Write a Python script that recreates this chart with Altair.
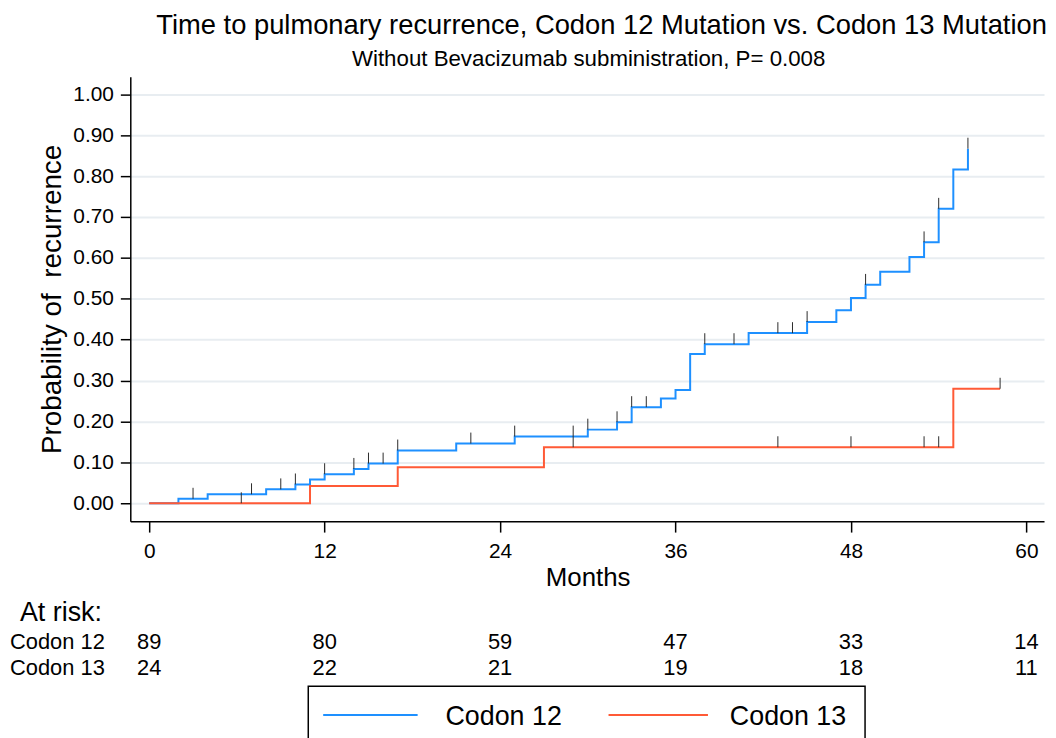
import altair as alt
import pandas as pd

# ---- data ----
c12_time = [0, 2, 4, 8, 10, 11, 12, 14, 15, 17, 21, 25, 30, 32, 33, 35, 36, 37, 38, 41,
            45, 47, 48, 49, 50, 52, 53, 54, 55, 56]
c12_prob = [0.0, 0.011, 0.022, 0.034, 0.046, 0.058, 0.071, 0.084, 0.097, 0.129,
            0.146, 0.163, 0.180, 0.198, 0.235, 0.256, 0.277, 0.365, 0.389, 0.416,
            0.443, 0.472, 0.502, 0.534, 0.566, 0.602, 0.638, 0.720, 0.816, 0.867]
c13_time = [0, 11, 17, 27, 55, 58.2]
c13_prob = [0.0, 0.042, 0.088, 0.137, 0.280, 0.280]

c12_censor = [3, 7, 9, 10, 12, 14, 15, 16, 17, 22, 25, 29, 30, 32, 33, 34, 38, 40,
              43, 44, 45, 49, 53, 54, 56]
c13_censor = [6.3, 29, 43, 48, 53, 54, 58.2]

risk_times = [0, 12, 24, 36, 48, 60]
risk_c12 = [89, 80, 59, 47, 33, 14]
risk_c13 = [24, 22, 21, 19, 18, 11]

groups = ["Codon 12", "Codon 13"]
BLUE = "#1e90ff"
RED = "#ff5a36"
FONT = "Liberation Sans"


def step_value(times, probs, t):
    v = probs[0]
    for ti, pi in zip(times, probs):
        if ti <= t + 1e-9:
            v = pi
    return v


curves = pd.DataFrame({
    "t": c12_time + c13_time,
    "p": c12_prob + c13_prob,
    "group": [groups[0]] * len(c12_time) + [groups[1]] * len(c13_time),
})
censors = pd.DataFrame({
    "t": c12_censor + c13_censor,
    "p": [step_value(c12_time, c12_prob, t) for t in c12_censor]
    + [step_value(c13_time, c13_prob, t) for t in c13_censor],
})
risk12 = pd.DataFrame({"t": risk_times, "n": risk_c12})
risk13 = pd.DataFrame({"t": risk_times, "n": risk_c13})
one = pd.DataFrame({"d": [0]})

xscale = alt.Scale(domain=[-1.292, 61.204], nice=False, zero=False)
yscale = alt.Scale(domain=[-0.0438, 1.043], nice=False, zero=False)

xaxis = alt.Axis(
    values=risk_times, title="Months", grid=False,
    tickSize=11, tickColor="black", tickWidth=1.5,
    domainColor="black", domainWidth=1.5,
    labelFontSize=21, labelColor="black", labelBaseline="alphabetic",
    labelPadding=26, labelFlush=False,
    titleFontSize=26, titleFontWeight="normal", titleColor="black",
    titleBaseline="alphabetic", titleX=460, titleY=65,
)
yaxis = alt.Axis(
    values=[i / 10 for i in range(11)], format=".2f",
    title="Probability of\u00a0 recurrence",
    grid=True, gridColor="#e8edf1", gridWidth=2,
    tickSize=10, tickColor="black", tickWidth=1.5,
    domainColor="black", domainWidth=1.5,
    labelFontSize=21, labelColor="black", labelPadding=7,
    titleFontSize=28, titleFontWeight="normal", titleColor="black",
    titleAngle=-90, titleAlign="center", titleBaseline="alphabetic",
    titleX=-70, titleY=223.5,
)

X = alt.X("t:Q", scale=xscale, axis=xaxis)
Y = alt.Y("p:Q", scale=yscale, axis=yaxis)

lines = alt.Chart(curves).mark_line(interpolate="step-after", strokeWidth=2).encode(
    x=X, y=Y,
    color=alt.Color("group:N", scale=alt.Scale(domain=groups, range=[BLUE, RED]), legend=None),
)

ticks = alt.Chart(censors).mark_rule(color="#2b2b2b", strokeWidth=1, y2Offset=-11).encode(
    x=X, y=Y, y2="p:Q",
)

title = alt.Chart(one).mark_text(
    text="Time to pulmonary recurrence, Codon 12 Mutation vs. Codon 13 Mutation",
    fontSize=27.5, align="center", baseline="alphabetic", color="black",
).encode(x=alt.value(474), y=alt.value(-43))
subtitle = alt.Chart(one).mark_text(
    text="Without Bevacizumab subministration, P= 0.008",
    fontSize=22.4, align="center", baseline="alphabetic", color="black",
).encode(x=alt.value(461), y=alt.value(-11))

at_risk = alt.Chart(one).mark_text(
    text="At risk:", fontSize=27, align="left", baseline="alphabetic", color="black",
).encode(x=alt.value(-111), y=alt.value(547))
row12 = alt.Chart(one).mark_text(
    text=groups[0], fontSize=22, align="left", baseline="alphabetic", color="black",
).encode(x=alt.value(-121), y=alt.value(576))
row13 = alt.Chart(one).mark_text(
    text=groups[1], fontSize=22, align="left", baseline="alphabetic", color="black",
).encode(x=alt.value(-121), y=alt.value(602))

n12 = alt.Chart(risk12).mark_text(fontSize=22, align="center", baseline="alphabetic", color="black").encode(
    x=X, y=alt.value(576), text="n:Q")
n13 = alt.Chart(risk13).mark_text(fontSize=22, align="center", baseline="alphabetic", color="black").encode(
    x=X, y=alt.value(602), text="n:Q")

# legend (drawn by hand, below the at-risk table)
leg_box = alt.Chart(one).mark_rect(filled=False, stroke="black", strokeWidth=1.5).encode(
    x=alt.value(179), x2=alt.value(739), y=alt.value(613), y2=alt.value(668))
leg_l12 = alt.Chart(one).mark_rule(color=BLUE, strokeWidth=2).encode(
    x=alt.value(194), x2=alt.value(289), y=alt.value(642))
leg_l13 = alt.Chart(one).mark_rule(color=RED, strokeWidth=2).encode(
    x=alt.value(481), x2=alt.value(581), y=alt.value(642))
leg_t12 = alt.Chart(one).mark_text(text=groups[0], fontSize=27, align="left", baseline="alphabetic", color="black").encode(
    x=alt.value(317), y=alt.value(652))
leg_t13 = alt.Chart(one).mark_text(text=groups[1], fontSize=27, align="left", baseline="alphabetic", color="black").encode(
    x=alt.value(603), y=alt.value(652))

chart = alt.layer(
    lines, ticks, title, subtitle, at_risk, row12, row13, n12, n13,
    leg_box, leg_l12, leg_l13, leg_t12, leg_t13,
).properties(
    width=919, height=447,
    padding={"left": 123, "top": 67, "right": 4, "bottom": 216},
    autosize=alt.AutoSizeParams(type="none"),
    background="white",
).configure(font=FONT).configure_view(stroke=None)

chart.save("out.html", embed_options={"renderer": "svg", "actions": False})
